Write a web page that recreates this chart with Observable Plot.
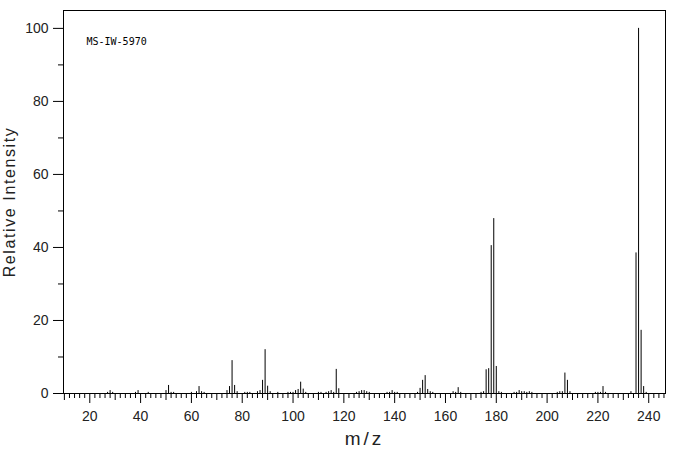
<!DOCTYPE html>
<html>
<head>
<meta charset="utf-8">
<script src="https://cdn.jsdelivr.net/npm/d3@7"></script>
<script src="https://cdn.jsdelivr.net/npm/@observablehq/plot@0.6"></script>
<style>
  html, body { margin: 0; padding: 0; background: #fff; }
</style>
</head>
<body>
<div id="chart"></div>
<script>
// m/z values and relative intensities
const mz = [27, 28, 29, 38, 39, 43, 50, 51, 52, 53, 60, 62, 63, 64, 65,
  74, 75, 76, 77, 78, 81, 82, 83, 86, 87, 88, 89, 90, 91, 94,
  98, 99, 100, 101, 102, 103, 104, 105, 110, 111, 113, 114, 115, 116, 117, 118,
  125, 126, 127, 128, 129, 130, 137, 138, 139, 140, 141,
  149, 150, 151, 152, 153, 154, 155, 163, 164, 165, 166,
  174, 175, 176, 177, 178, 179, 180, 181, 182,
  187, 188, 189, 190, 191, 192, 193, 194,
  204, 205, 206, 207, 208, 209, 219, 220, 221, 222, 223,
  233, 235, 236, 237, 238, 239];
const intensity = [0.3, 0.8, 0.3, 0.3, 0.8, 0.3, 0.8, 2.2, 0.3, 0.3, 0.3, 0.5, 1.9, 0.5, 0.3,
  0.8, 1.9, 9.0, 2.2, 0.5, 0.3, 0.3, 0.3, 0.5, 0.8, 3.6, 12.0, 2.0, 0.5, 0.3,
  0.3, 0.3, 0.3, 0.8, 1.1, 3.1, 1.2, 0.3, 0.3, 0.3, 0.3, 0.5, 0.8, 0.3, 6.6, 1.3,
  0.3, 0.5, 0.8, 0.8, 0.5, 0.3, 0.3, 0.3, 0.8, 0.3, 0.3,
  0.3, 1.4, 3.6, 4.9, 1.1, 0.5, 0.3, 0.5, 0.3, 1.6, 0.3,
  0.3, 0.5, 6.5, 6.8, 40.5, 47.9, 7.4, 0.5, 0.3,
  0.3, 0.3, 0.8, 0.5, 0.5, 0.3, 0.5, 0.3,
  0.3, 0.5, 0.5, 5.6, 3.6, 0.5, 0.3, 0.3, 0.3, 1.9, 0.3,
  0.5, 38.5, 100, 17.3, 1.9, 0.3];

const xMajorTicks = [20, 40, 60, 80, 100, 120, 140, 160, 180, 200, 220, 240];
const xMidTicks = [10, 30, 50, 70, 90, 110, 130, 150, 170, 190, 210, 230];
const xMinorTicks = d3.range(12, 247, 2).filter(v => v % 10 !== 0);
const yMajorTicks = [0, 20, 40, 60, 80, 100];
const yMinorTicks = [10, 30, 50, 70, 90];

const xTitle = "m/z";
const yTitle = "Relative Intensity";
const note = "MS-IW-5970";

const peaks = mz.map((m, i) => ({mz: m, intensity: intensity[i]}));
const blank = () => "";

const chart = Plot.plot({
  width: 676,
  height: 455,
  marginLeft: 63,
  marginRight: 11,
  marginTop: 10,
  marginBottom: 62,
  style: {fontFamily: "'Liberation Sans', Arial, sans-serif", fontSize: "14px", color: "#000", background: "#fff"},
  x: {domain: [9.65, 246.6], axis: null},
  y: {domain: [0, 104.9], axis: null},
  marks: [
    Plot.frame({stroke: "#000"}),
    Plot.ruleX(peaks, {x: "mz", y1: 0, y2: "intensity", stroke: "#000", strokeWidth: 1}),
    Plot.axisX(xMinorTicks, {tickSize: 5, tickFormat: blank, label: null}),
    Plot.axisX(xMidTicks, {tickSize: 7, tickFormat: blank, label: null}),
    Plot.axisX(xMajorTicks, {tickSize: 10, tickPadding: 8, fontSize: 14, fill: "#222", label: null}),
    Plot.axisY(yMinorTicks, {tickSize: 5, tickFormat: blank, label: null}),
    Plot.axisY(yMajorTicks, {tickSize: 10, tickPadding: 5, fontSize: 14, fill: "#222", label: null}),
    Plot.text([yTitle], {frameAnchor: "left", text: d => d, rotate: -90, dx: -54, textAnchor: "middle", lineAnchor: "middle", fontSize: 16, fill: "#222"}),
    Plot.text([xTitle], {frameAnchor: "bottom", text: d => d, dy: 51, fontSize: 19, fill: "#222"}),
    Plot.text([note], {frameAnchor: "top-left", text: d => d, dx: 23, dy: 27, textAnchor: "start", fontSize: 10, fontFamily: "'DejaVu Sans Mono', monospace", fill: "#000"})
  ]
});
// widen the spacing of the two axis titles to match the original's stroke font
d3.select(chart).selectAll("text").each(function() {
  const t = this.textContent;
  if (t === yTitle) this.setAttribute("letter-spacing", "1.6");
  if (t === xTitle) this.setAttribute("letter-spacing", "3");
});
document.getElementById("chart").appendChild(chart);
</script>
</body>
</html>
